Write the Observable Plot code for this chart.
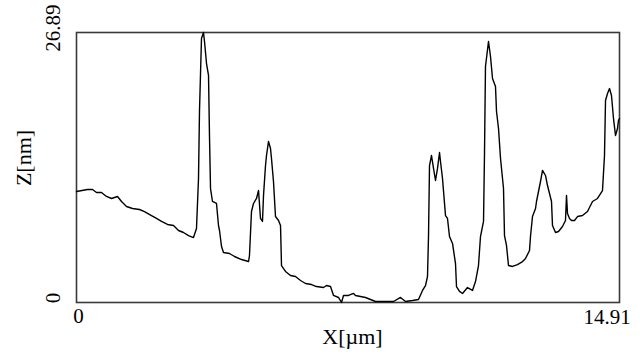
<!DOCTYPE html>
<html>
<head>
<meta charset="utf-8">
<script src="https://cdn.jsdelivr.net/npm/d3@7"></script>
<script src="https://cdn.jsdelivr.net/npm/@observablehq/plot@0.6"></script>
<style>
  html, body { margin: 0; padding: 0; background: #fff; }
  #chart svg { display: block; }
</style>
</head>
<body>
<div id="chart"></div>
<script>
// Profile trace: X position (µm) and height Z (nm)
const xValues = [
  0.000, 0.302, 0.439, 0.549, 0.686, 0.824, 0.961, 1.126, 1.236, 1.373,
  1.538, 1.730, 1.867, 2.059, 2.197, 2.334, 2.499, 2.664, 2.801, 2.938,
  3.075, 3.212, 3.295, 3.350, 3.377, 3.432, 3.487, 3.515, 3.570, 3.625,
  3.652, 3.680, 3.734, 3.844, 3.899, 3.927, 3.982, 4.036, 4.201, 4.339,
  4.531, 4.723, 4.750, 4.805, 4.860, 4.943, 4.998, 5.052, 5.107, 5.135,
  5.190, 5.217, 5.272, 5.327, 5.354, 5.409, 5.464, 5.547, 5.602, 5.629,
  5.739, 5.876, 6.014, 6.151, 6.288, 6.453, 6.590, 6.782, 6.865, 6.975,
  7.057, 7.194, 7.277, 7.332, 7.469, 7.606, 7.661, 7.798, 7.936, 8.073,
  8.210, 8.402, 8.540, 8.705, 8.897, 9.034, 9.226, 9.391, 9.501, 9.583,
  9.638, 9.666, 9.693, 9.748, 9.803, 9.858, 9.913, 9.968, 9.995, 10.050,
  10.132, 10.187, 10.242, 10.325, 10.407, 10.434, 10.517, 10.599, 10.736, 10.873,
  10.956, 11.038, 11.093, 11.176, 11.203, 11.230, 11.313, 11.368, 11.423, 11.505,
  11.533, 11.588, 11.643, 11.725, 11.752, 11.807, 11.862, 11.972, 12.109, 12.247,
  12.329, 12.439, 12.466, 12.521, 12.604, 12.631, 12.741, 12.796, 12.878, 12.933,
  13.043, 13.070, 13.153, 13.235, 13.345, 13.427, 13.455, 13.482, 13.537, 13.592,
  13.675, 13.757, 13.894, 14.031, 14.169, 14.306, 14.443, 14.498, 14.526, 14.581,
  14.636, 14.690, 14.745, 14.800, 14.855, 14.882, 14.910
];
const zValues = [
  11.05, 11.25, 11.25, 10.96, 10.96, 10.56, 10.36, 10.56, 10.06, 9.56,
  9.36, 9.26, 9.06, 8.66, 8.37, 8.07, 7.77, 7.67, 7.17, 6.97,
  6.67, 6.47, 7.37, 12.35, 19.02, 26.29, 26.89, 25.99, 23.80, 22.61,
  16.53, 11.35, 10.06, 9.86, 7.67, 7.17, 5.58, 4.98, 4.88, 4.58,
  4.28, 4.08, 4.68, 9.06, 9.86, 10.36, 11.15, 8.37, 8.07, 10.66,
  13.64, 14.64, 16.03, 15.34, 14.34, 12.05, 8.56, 8.17, 7.67, 3.68,
  3.09, 2.69, 2.59, 2.19, 1.89, 1.79, 1.59, 1.49, 1.69, 1.59,
  0.70, 0.50, 0.00, 0.70, 0.70, 0.90, 0.70, 0.60, 0.50, 0.30,
  0.10, 0.10, 0.10, 0.10, 0.50, 0.10, 0.20, 0.30, 1.20, 1.69,
  2.59, 6.67, 13.64, 14.64, 13.35, 12.15, 13.35, 14.94, 14.04, 12.35,
  8.66, 8.37, 6.57, 5.88, 3.88, 1.59, 1.10, 0.90, 1.49, 1.20,
  2.09, 3.68, 6.57, 8.07, 14.84, 23.50, 25.99, 24.50, 22.31, 21.51,
  19.02, 17.33, 14.34, 11.35, 6.67, 5.68, 3.68, 3.59, 3.78, 4.08,
  4.38, 5.18, 6.57, 8.56, 9.36, 10.06, 12.05, 13.15, 12.65, 11.65,
  10.06, 7.67, 6.97, 7.07, 7.57, 8.17, 10.66, 8.86, 8.37, 8.17,
  8.17, 8.56, 8.66, 9.06, 10.06, 10.36, 11.15, 14.64, 20.12, 20.81,
  21.31, 20.62, 18.33, 16.63, 17.33, 18.13, 18.33
];

const xDomain = [0, 14.91];
const zDomain = [0, 26.89];
const xTickLabels = ["0", "14.91"];
const zTickLabels = ["0", "26.89"];
const xTitle = "X[µm]";
const zTitle = "Z[nm]";

const profile = xValues.map((x, i) => ({x, z: zValues[i]}));
const font = "Liberation Serif, Times New Roman, serif";

const chart = Plot.plot({
  width: 640,
  height: 356,
  marginLeft: 76,
  marginRight: 21,
  marginTop: 32,
  marginBottom: 54,
  style: {fontFamily: font, background: "#fff", color: "#000"},
  x: {domain: xDomain, axis: null},
  y: {domain: zDomain, axis: null},
  marks: [
    Plot.frame({stroke: "#3a3a3a", strokeWidth: 1.6}),
    Plot.line(profile, {x: "x", y: "z", stroke: "#000", strokeWidth: 1.4}),
    // x tick labels
    Plot.text([xDomain[0]], {x: d => d, frameAnchor: "bottom", text: () => xTickLabels[0],
      fontSize: 21, dx: 2, dy: 14, lineAnchor: "middle", fill: "#000"}),
    Plot.text([xDomain[1]], {x: d => d, frameAnchor: "bottom", text: () => xTickLabels[1],
      fontSize: 21, dx: -12.5, dy: 15, lineAnchor: "middle", fill: "#000"}),
    // y tick labels (rotated)
    Plot.text(zDomain, {y: d => d, frameAnchor: "left", text: (d, i) => zTickLabels[i],
      fontSize: 21, rotate: -90, dx: -23.5, dy: -4.5, textAnchor: "middle", lineAnchor: "middle", fill: "#000"}),
    // axis titles
    Plot.text([xTitle], {frameAnchor: "bottom", text: d => d, fontSize: 22, dx: 4.5, dy: 34, textAnchor: "middle", lineAnchor: "middle", fill: "#000"}),
    Plot.text([zTitle], {frameAnchor: "left", text: d => d, fontSize: 22, rotate: -90, dx: -53, dy: -9.5, textAnchor: "middle", lineAnchor: "middle", fill: "#000"})
  ]
});
document.getElementById("chart").appendChild(chart);
</script>
</body>
</html>
